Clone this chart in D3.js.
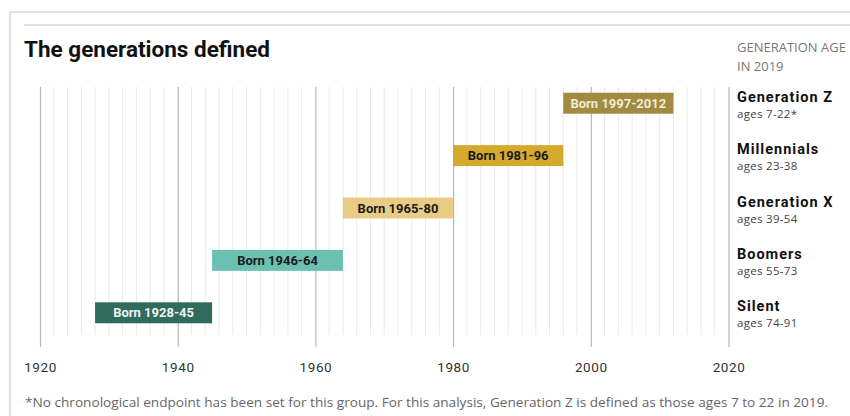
<!DOCTYPE html>
<html>
<head>
<meta charset="utf-8">
<script src="https://cdn.jsdelivr.net/npm/d3@7"></script>
<style>
  body { margin: 0; background: #fff; }
  svg { display: block; }
</style>
</head>
<body>
<div class="chart"></div>
<script>
// data
var generations = ["Generation Z", "Millennials", "Generation X", "Boomers", "Silent"];
var ageLabels = ["ages 7-22*", "ages 23-38", "ages 39-54", "ages 55-73", "ages 74-91"];
var bornLabels = ["Born 1997-2012", "Born 1981-96", "Born 1965-80", "Born 1946-64", "Born 1928-45"];
var barStart = [1996, 1980, 1964, 1945, 1928];
var barEnd = [2012, 1996, 1980, 1964, 1945];
var barColors = ["#a08b40", "#d5a92c", "#e9cc86", "#6cc0b1", "#2f6c5c"];
var textColors = ["#f4ecd4", "#1a1a1a", "#1a1a1a", "#1a1a1a", "#f2f2f2"];
var yearTicks = [1920, 1940, 1960, 1980, 2000, 2020];

var svgWidth = 850;
var svgHeight = 416;

var svg = d3.select(".chart")
  .append("svg")
  .attr("width", svgWidth)
  .attr("height", svgHeight);

// frame lines
svg.append("line").attr("x1", 10).attr("x2", 10).attr("y1", 12).attr("y2", svgHeight)
  .attr("stroke", "#d6d6d6").attr("stroke-width", 1.5);
svg.append("line").attr("x1", 10).attr("x2", svgWidth).attr("y1", 12).attr("y2", 12)
  .attr("stroke", "#d6d6d6").attr("stroke-width", 1.5);
svg.append("line").attr("x1", 24).attr("x2", svgWidth).attr("y1", 25).attr("y2", 25)
  .attr("stroke", "#c8c8c8").attr("stroke-width", 1);

// title
svg.append("text")
  .attr("x", 24).attr("y", 57)
  .attr("font-family", "Roboto, sans-serif")
  .attr("font-weight", 700)
  .attr("font-size", "22.5px")
  .attr("fill", "#111")
  .text("The generations defined");

// header for right column
var head = svg.append("text")
  .attr("font-family", "'Open Sans', sans-serif")
  .attr("font-size", "13px")
  .attr("fill", "#777");
head.append("tspan").attr("x", 737).attr("y", 52).text("GENERATION AGE");
head.append("tspan").attr("x", 737).attr("y", 71).text("IN 2019");

// scales
var x = d3.scaleLinear().domain([1920, 2020]).range([40, 728.5]);
var y = d3.scaleBand().domain(generations).range([77, 339]).paddingInner(0.6).paddingOuter(0.3);

var chartGroup = svg.append("g");

// minor grid every 2 years
var minorYears = d3.range(1922, 2020, 2).filter(function(d) { return d % 20 !== 0; });
chartGroup.selectAll(".minor")
  .data(minorYears)
  .enter()
  .append("line")
  .attr("class", "minor")
  .attr("x1", d => x(d)).attr("x2", d => x(d))
  .attr("y1", 87).attr("y2", 335)
  .attr("stroke", "#e9e9e9")
  .attr("stroke-width", 1);

// major grid + x axis labels
var bottomAxis = d3.axisBottom(x)
  .tickValues(yearTicks)
  .tickFormat(d3.format("d"))
  .tickSize(-(347 - 87))
  .tickPadding(15);

var xAxis = chartGroup.append("g")
  .attr("transform", "translate(0, 347)")
  .call(bottomAxis);
xAxis.select(".domain").remove();
xAxis.selectAll(".tick line").attr("stroke", "#b8b8b8").attr("stroke-width", 1.2);
xAxis.selectAll(".tick text")
  .attr("font-family", "Roboto, sans-serif")
  .attr("font-size", "13.5px")
  .attr("letter-spacing", "0.6px")
  .attr("fill", "#333");

// bars
var rows = generations.map(function(g, i) {
  return { name: g, age: ageLabels[i], born: bornLabels[i], start: barStart[i], end: barEnd[i], color: barColors[i], tc: textColors[i] };
});

chartGroup.selectAll(".bar")
  .data(rows)
  .enter()
  .append("rect")
  .attr("class", "bar")
  .attr("x", d => x(d.start))
  .attr("y", d => y(d.name))
  .attr("width", d => x(d.end) - x(d.start))
  .attr("height", y.bandwidth())
  .attr("fill", d => d.color);

chartGroup.selectAll(".barText")
  .data(rows)
  .enter()
  .append("text")
  .attr("class", "barText")
  .attr("x", d => (x(d.start) + x(d.end)) / 2)
  .attr("y", d => y(d.name) + y.bandwidth() / 2 + 4.5)
  .attr("text-anchor", "middle")
  .attr("font-family", "Roboto, sans-serif")
  .attr("font-weight", 700)
  .attr("font-size", "13px")
  .attr("fill", d => d.tc)
  .text(d => d.born);

// right column labels
var labels = chartGroup.selectAll(".genLabel")
  .data(rows)
  .enter()
  .append("g")
  .attr("class", "genLabel")
  .attr("transform", d => `translate(737, ${y(d.name)})`);

labels.append("text")
  .attr("y", 9)
  .attr("font-family", "Roboto, sans-serif")
  .attr("font-weight", 700)
  .attr("font-size", "14.5px")
  .attr("letter-spacing", "1px")
  .attr("fill", "#111")
  .text(d => d.name);

labels.append("text")
  .attr("y", 25)
  .attr("font-family", "'Open Sans', sans-serif")
  .attr("font-size", "11.5px")
  .attr("letter-spacing", "0.3px")
  .attr("fill", "#444")
  .text(d => d.age);

// footnote
svg.append("text")
  .attr("x", 25).attr("y", 407)
  .attr("font-family", "'Open Sans', sans-serif")
  .attr("font-size", "12px")
  .attr("fill", "#666")
  .attr("textLength", 803)
  .attr("lengthAdjust", "spacingAndGlyphs")
  .text("*No chronological endpoint has been set for this group. For this analysis, Generation Z is defined as those ages 7 to 22 in 2019.");
</script>
</body>
</html>
